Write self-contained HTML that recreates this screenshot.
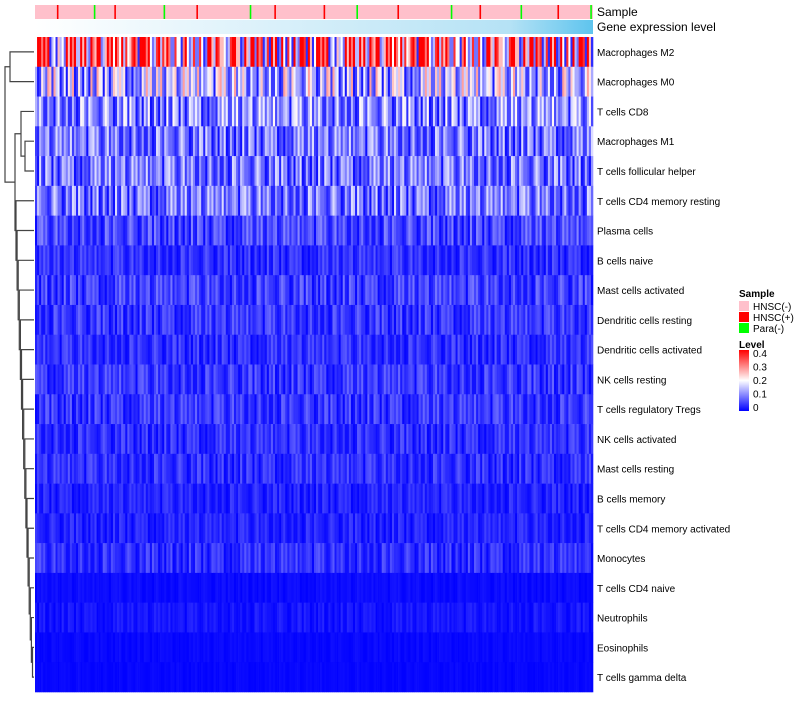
<!DOCTYPE html>
<html><head><meta charset="utf-8"><style>
body{margin:0;background:#fff;font-family:"Liberation Sans",sans-serif}
svg text{font-family:"Liberation Sans",sans-serif}
</style></head><body>
<svg id="c" width="800" height="700" xmlns="http://www.w3.org/2000/svg"></svg>
<script>
const rows=["Macrophages M2","Macrophages M0","T cells CD8","Macrophages M1","T cells follicular helper","T cells CD4 memory resting","Plasma cells","B cells naive","Mast cells activated","Dendritic cells resting","Dendritic cells activated","NK cells resting","T cells regulatory  Tregs","NK cells activated","Mast cells resting","B cells memory","T cells CD4 memory activated","Monocytes","T cells CD4 naive","Neutrophils","Eosinophils","T cells gamma delta"];
const rowMeans=[0.23,0.12,0.09,0.075,0.075,0.075,0.045,0.03,0.04,0.035,0.03,0.035,0.035,0.03,0.03,0.022,0.022,0.03,0.007,0.013,0.005,0.004];
const colPattern="3719264851029473618205937461820394756102847396152048371926405183729461058273940618352749106384725019364827510936482751093648275190364827";
const sampleCodes="0000010000000020000100000000000200000001000000000000200000100000000000100000002000000000100000000000020000001000000000200000000100000002";
const svg=document.getElementById('c');const NS="http://www.w3.org/2000/svg";
function el(t,a,p){const e=document.createElementNS(NS,t);for(const k in a)e.setAttribute(k,a[k]);(p||svg).appendChild(e);return e;}
const X0=35,X1=593,Y0=37,Y1=692,P=colPattern.length,N=P*2;
const cw=(X1-X0)/N,rh=(Y1-Y0)/rows.length;
const xs=i=>X0+i*cw, ys=r=>Y0+r*rh;
function col(v){v=Math.max(0,Math.min(0.4,v));let r,g,b;
 if(v<0.2){const t=v/0.2;r=g=Math.round(255*t);b=255;}else{const t=(v-0.2)/0.2;r=255;g=b=Math.round(255*(1-t));}
 return `rgb(${r},${g},${b})`;}
const defs=el('defs',{});
const sc=["#ffc0cb","#ff0000","#00ff00"];
el('rect',{x:X0,y:5,width:X1-X0,height:14,fill:sc[0]});
const sw=(X1-X0)/sampleCodes.length;
for(let i=0;i<sampleCodes.length;i++){if(sampleCodes[i]==='0')continue;const e=el('rect',{x:X0+i*sw+sw/3,y:5,width:1.6,height:14,fill:sc[+sampleCodes[i]]});

}
const lg=el('linearGradient',{id:'g'},defs);
el('stop',{offset:'0','stop-color':'#ffffff'},lg);el('stop',{offset:'0.85','stop-color':'#b5e2f5'},lg);el('stop',{offset:'1','stop-color':'#5ec4ee'},lg);
const gb=el('rect',{x:X0,y:20,width:X1-X0,height:14,fill:'url(#g)'});


for(let r=0;r<rows.length;r++){for(let i=0;i<N;i++){
 const p=+colPattern[(i*7+r*13)%P];const v=rowMeans[r]*(0.15+p/4.2);
 const e=el('rect',{x:xs(i),y:ys(r),width:cw+0.3,height:rh+0.3,fill:col(v)});
 
 }
 const t=el('text',{x:597,y:ys(r)+rh/2+4,'font-size':10});t.textContent=rows[r];
 
 }
const t1=el('text',{x:597,y:16,'font-size':12});t1.textContent="Sample";


const t2=el('text',{x:597,y:31,'font-size':12});t2.textContent="Gene expression level";


const dg=el('g',{stroke:'#444','stroke-width':1.2,fill:'none'});


const cy=r=>ys(r)+rh/2;
function br(x,ya,yb,xa,xb){el('path',{d:`M${xa},${ya}H${x}V${yb}H${xb}`},dg);}
br(10,cy(0),cy(1),34,34);const topY=(cy(0)+cy(1))/2;
br(25,cy(3),cy(4),34,34);br(21,cy(2),(cy(3)+cy(4))/2,34,25);const cA=(cy(2)+(cy(3)+cy(4))/2)/2;
let prevY=cy(21),prevX=34;
for(let r=20;r>=5;r--){const x=16+(r-5)*1.1;br(x,cy(r),prevY,34,prevX);prevY=(cy(r)+prevY)/2;prevX=x;}
br(15,cA,prevY,21,prevX);const cB=(cA+prevY)/2;
br(5,topY,cB,10,15);
const L=el('g',{});


const lt=el('text',{x:739,y:297,'font-size':10,'font-weight':'bold'},L);lt.textContent="Sample";
["HNSC(-)","HNSC(+)","Para(-)"].forEach((s,i)=>{const e=el('rect',{x:739,y:301+i*11,width:10,height:10,fill:sc[i]},L);


const t=el('text',{x:753,y:310+i*11,'font-size':10},L);t.textContent=s;});
const lv=el('text',{x:739,y:348,'font-size':10,'font-weight':'bold'},L);lv.textContent="Level";
const lg2=el('linearGradient',{id:'lv',x1:0,y1:1,x2:0,y2:0},defs);
el('stop',{offset:'0','stop-color':'#0000ff'},lg2);el('stop',{offset:'0.5','stop-color':'#ffffff'},lg2);el('stop',{offset:'1','stop-color':'#ff0000'},lg2);
el('rect',{x:739,y:350,width:10,height:61,fill:'url(#lv)'},L);
["0.4","0.3","0.2","0.1","0"].forEach((s,i)=>{const t=el('text',{x:753,y:357+i*13.5,'font-size':10},L);t.textContent=s;});
</script>
</body></html>
